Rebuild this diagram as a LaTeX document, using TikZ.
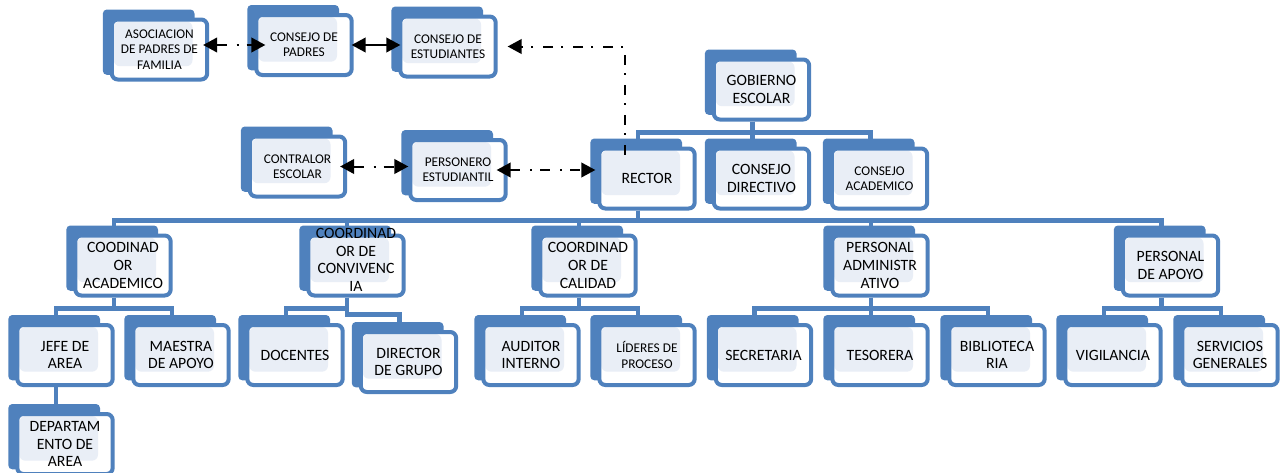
\documentclass[tikz,border=0pt]{standalone}
\usepackage{fontspec}
\setmainfont{Carlito}
\usetikzlibrary{arrows.meta,backgrounds}
\definecolor{orgblue}{RGB}{79,129,189}
\definecolor{orglight}{RGB}{233,238,246}
\newcommand{\orgfont}{\fontsize{11.8}{13.3}\selectfont}
\newcommand{\orgsmallfont}{\fontsize{10}{11.5}\selectfont}
\tikzset{
    orgbox/.style={draw=orgblue, line width=3pt, rounded corners=4.5pt, fill=white,
        minimum width=71.5pt, minimum height=45pt, inner sep=0pt, align=center,
        font=\orgfont,
        path picture={\fill[orglight]
            ([shift={(1.5pt,-1.5pt)}]path picture bounding box.north west) rectangle
            ([shift={(-11pt,10pt)}]path picture bounding box.south east);}},
    orgsmall/.style={orgbox, font=\orgsmallfont},
    orgback/.style={fill=orgblue, rounded corners=3pt},
    orgline/.style={draw=orgblue, line width=3.5pt},
    orgarrow/.style={-{Triangle[length=10.5pt,width=11pt]}, line width=1.5pt},
    orgarrows/.style={{Triangle[length=10.5pt,width=11pt]}-{Triangle[length=10.5pt,width=11pt]},
        line width=1.5pt},
    orgdashdot/.style={dash pattern=on 7.5pt off 7.5pt on 1.5pt off 6pt}
}

\begin{document}
\begin{tikzpicture}[x=0.75pt, y=-0.75pt]
    \path[use as bounding box, clip] (0,0) rectangle (1283,472);

    % upper part
    \node[orgsmall] (asoc) at (159.5,49.5) {ASOCIACION\\DE PADRES DE\\FAMILIA};
    \node[orgsmall] (cpadres) at (304,45) {CONSEJO DE\\PADRES};
    \node[orgsmall] (cestud) at (448,46.5) {CONSEJO DE\\ESTUDIANTES};
    \node[orgbox] (gobierno) at (761.5,89.5) {GOBIERNO\\ESCOLAR};

    \node[orgsmall] (contralor) at (297.5,166.5) {CONTRALOR\\ESCOLAR};
    \node[orgsmall] (personero) at (458,170) {PERSONERO\\ESTUDIANTIL};
    \node[orgbox] (rector) at (647,178.5) {RECTOR};
    \node[orgbox] (cdirectivo) at (761.5,178.5) {CONSEJO\\DIRECTIVO};
    \node[orgsmall] (cacademico) at (879.5,178.5) {CONSEJO\\ACADEMICO};

    % coordinators
    \node[orgbox] (coodacad) at (123,265.5) {COODINAD\\OR\\ACADEMICO};
    \node[orgbox] (convivencia) at (356,265.5)
        {\smash{\begin{tabular}{@{}c@{}}COORDINAD\\OR DE\\CONVIVENC\\IA\end{tabular}}};
    \node[orgbox] (calidad) at (588,265.5) {COORDINAD\\OR DE\\CALIDAD};
    \node[orgbox] (padmin) at (880,265.5) {PERSONAL\\ADMINISTR\\ATIVO};
    \node[orgbox] (papoyo) at (1170.5,265.5) {PERSONAL\\DE APOYO};

    % lower level
    \node[orgbox] (jefe) at (65,355) {JEFE DE\\AREA};
    \node[orgbox] (maestra) at (181,355) {MAESTRA\\DE APOYO};
    \node[orgbox] (departamento) at (65,444) {DEPARTAM\\ENTO DE\\AREA};
    \node[orgbox] (docentes) at (295,355) {DOCENTES};
    \node[orgbox] (director) at (408.5,362) {DIRECTOR\\DE GRUPO};
    \node[orgbox] (auditor) at (531,355) {AUDITOR\\INTERNO};
    \node[orgsmall] (lideres) at (647,355) {LÍDERES DE\\PROCESO};
    \node[orgbox] (secretaria) at (763.5,355) {SECRETARIA};
    \node[orgbox] (tesorera) at (880,355) {TESORERA};
    \node[orgbox] (biblioteca) at (997,355) {BIBLIOTECA\\RIA};
    \node[orgbox] (vigilancia) at (1113,355) {VIGILANCIA};
    \node[orgbox] (servicios) at (1230,355) {SERVICIOS\\GENERALES};

    % blue tabs behind the boxes
    \begin{pgfonlayer}{background}
        \foreach \n in {asoc,cpadres,cestud,gobierno,contralor,personero,rector,
                cdirectivo,cacademico,coodacad,convivencia,calidad,padmin,papoyo,
                jefe,maestra,departamento,docentes,director,auditor,lideres,
                secretaria,tesorera,biblioteca,vigilancia,servicios}
            \fill[orgback] ([shift={(-5.25pt,6pt)}]\n.north west)
                rectangle ([shift={(-11pt,5pt)}]\n.south east);
    \end{pgfonlayer}

    % tree connectors
    \draw[orgline] ([xshift=-6.75pt]gobierno.south) -- ++(0,11) -| ([xshift=-6.75pt,yshift=6pt]rector.north);
    \draw[orgline] ([xshift=-6.75pt]gobierno.south) -- ++(0,11) -| ([xshift=-6.75pt,yshift=6pt]cdirectivo.north);
    \draw[orgline] ([xshift=-6.75pt]gobierno.south) -- ++(0,11) -| ([xshift=-6.75pt,yshift=6pt]cacademico.north);

    \draw[orgline] ([xshift=-6.75pt]rector.south) -- ++(0,10) -| ([xshift=-6.75pt,yshift=6pt]coodacad.north);
    \draw[orgline] ([xshift=-6.75pt]rector.south) -- ++(0,10) -| ([xshift=-6.75pt,yshift=6pt]convivencia.north);
    \draw[orgline] ([xshift=-6.75pt]rector.south) -- ++(0,10) -| ([xshift=-6.75pt,yshift=6pt]calidad.north);
    \draw[orgline] ([xshift=-6.75pt]rector.south) -- ++(0,10) -| ([xshift=-6.75pt,yshift=6pt]padmin.north);
    \draw[orgline] ([xshift=-6.75pt]rector.south) -- ++(0,10) -| ([xshift=-6.75pt,yshift=6pt]papoyo.north);

    \draw[orgline] ([xshift=-6.75pt]coodacad.south) -- ++(0,11) -| ([xshift=-6.75pt,yshift=6pt]jefe.north);
    \draw[orgline] ([xshift=-6.75pt]coodacad.south) -- ++(0,11) -| ([xshift=-6.75pt,yshift=6pt]maestra.north);
    \draw[orgline] ([xshift=-6.75pt]jefe.south) -- ([xshift=-6.75pt,yshift=6pt]departamento.north);
    \draw[orgline] ([xshift=-6.75pt]convivencia.south) -- ++(0,11) -| ([xshift=-6.75pt,yshift=6pt]docentes.north);
    \draw[orgline] ([xshift=-6.75pt]convivencia.south) -- ++(0,17) -| ([xshift=-6.75pt,yshift=6pt]director.north);
    \draw[orgline] ([xshift=-6.75pt]calidad.south) -- ++(0,11) -| ([xshift=-6.75pt,yshift=6pt]auditor.north);
    \draw[orgline] ([xshift=-6.75pt]calidad.south) -- ++(0,11) -| ([xshift=-6.75pt,yshift=6pt]lideres.north);
    \draw[orgline] ([xshift=-6.75pt]padmin.south) -- ++(0,11) -| ([xshift=-6.75pt,yshift=6pt]secretaria.north);
    \draw[orgline] ([xshift=-6.75pt]padmin.south) -- ++(0,11) -| ([xshift=-6.75pt,yshift=6pt]tesorera.north);
    \draw[orgline] ([xshift=-6.75pt]padmin.south) -- ++(0,11) -| ([xshift=-6.75pt,yshift=6pt]biblioteca.north);
    \draw[orgline] ([xshift=-6.75pt]papoyo.south) -- ++(0,11) -| ([xshift=-6.75pt,yshift=6pt]vigilancia.north);
    \draw[orgline] ([xshift=-6.75pt]papoyo.south) -- ++(0,11) -| ([xshift=-6.75pt,yshift=6pt]servicios.north);

    % black arrows
    \draw[orgarrows, orgdashdot, shorten <=-4.5pt, shorten >=-8.25pt] (cpadres.west -| asoc.east) -- (cpadres.west);
    \draw[orgarrows, shorten <=-1.5pt, shorten >=-1.5pt] (cpadres.east) -- (cpadres.east -| cestud.west);
    \draw[orgarrows, orgdashdot, shorten <=-5.25pt] (contralor.east) -- (contralor.east -| personero.west);
    \draw[orgarrows, orgdashdot, shorten <=-8.25pt, shorten >=1.5pt] (personero.east) -- (personero.east -| rector.west);
    \draw[orgarrow, orgdashdot, shorten <=-6pt, shorten >=7.5pt] ([xshift=-16.5pt]rector.north) |- (cestud.east);
\end{tikzpicture}
\end{document}
